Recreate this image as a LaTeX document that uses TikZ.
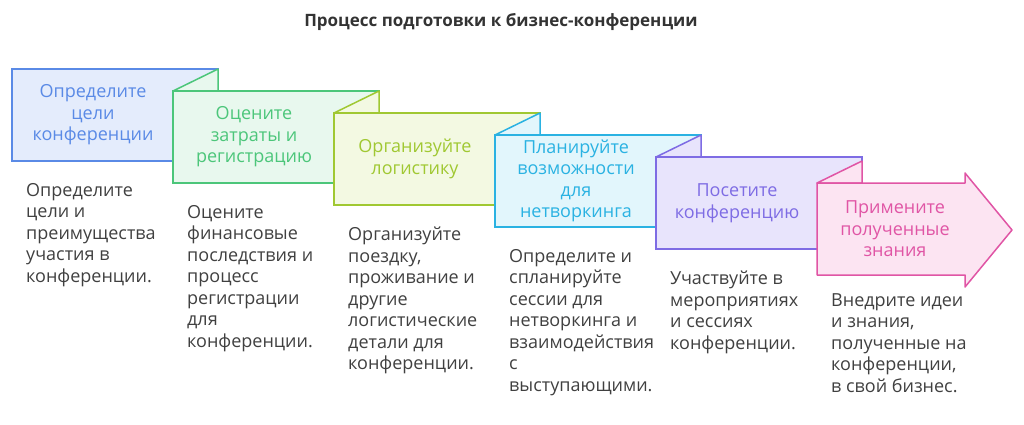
\documentclass[tikz,border=0pt]{standalone}
\usepackage{fontspec}
\setmainfont{Open Sans}
\begin{document}
\begin{tikzpicture}[x=1pt,y=-1pt,
 lbl/.style={align=center,font=\fontsize{18}{21.5}\selectfont},
 dsc/.style={anchor=north west,align=left,inner sep=0pt,text=black!75,font=\fontsize{18}{21.5}\selectfont}]
\useasboundingbox (0,0) rectangle (1024,425);
\definecolor{s1}{HTML}{5A8AE6}\definecolor{f1}{HTML}{E4ECFC}
\definecolor{s2}{HTML}{4CC67A}\definecolor{f2}{HTML}{E8F8EE}
\definecolor{s3}{HTML}{A0C832}\definecolor{f3}{HTML}{F3F9E2}
\definecolor{s4}{HTML}{2AB2E2}\definecolor{f4}{HTML}{E2F6FC}
\definecolor{s5}{HTML}{7E6CE4}\definecolor{f5}{HTML}{E8E4FC}
\definecolor{s6}{HTML}{E055A5}\definecolor{f6}{HTML}{FCE4F2}
\node[font=\bfseries\fontsize{17}{19}\selectfont,text=black!80] (title) at (501,22) {Процесс подготовки к бизнес-конференции};
\foreach \i/\t in {1/{Определите\\цели\\конференции},2/{Оцените\\затраты и\\регистрацию},3/{Организуйте\\логистику},4/{Планируйте\\возможности\\для\\нетворкинга},5/{Посетите\\конференцию}}{
  \pgfmathsetmacro\L{12+161*(\i-1)}
  \pgfmathsetmacro\T{69+22*(\i-1)}
  \ifnum\i>1
   \fill[f\i,draw=s\i,line width=1.5pt,line join=round] (\L,\T) -- (\L+45,\T-22) -- (\L+45,\T) -- cycle;
  \fi
  \filldraw[fill=f\i,draw=s\i,line width=1.5pt] (\L,\T) rectangle (\L+206,\T+92);
  \node[lbl,text=s\i] (b\i) at (\L+81,\T+46) {\t};
}
\fill[f6,draw=s6,line width=1.5pt,line join=round] (817,183) -- (862,161) -- (862,183) -- cycle;
\filldraw[fill=f6,draw=s6,line width=1.5pt,line join=round] (817,183) -- (965,183) -- (965,173) -- (1012,230) -- (965,287) -- (965,275) -- (817,275) -- cycle;
\node[lbl,text=s6] (b6) at (895,229) {Примените\\полученные\\знания};
\node[dsc] (d1) at (26,183) {Определите\\цели и\\преимущества\\участия в\\конференции.};
\node[dsc] (d2) at (187,205) {Оцените\\финансовые\\последствия и\\процесс\\регистрации\\для\\конференции.};
\node[dsc] (d3) at (348,227) {Организуйте\\поездку,\\проживание и\\другие\\логистические\\детали для\\конференции.};
\node[dsc] (d4) at (509,249) {Определите и\\спланируйте\\сессии для\\нетворкинга и\\взаимодействия\\с\\выступающими.};
\node[dsc] (d5) at (670,271) {Участвуйте в\\мероприятиях\\и сессиях\\конференции.};
\node[dsc] (d6) at (831,293) {Внедрите идеи\\и знания,\\полученные на\\конференции,\\в свой бизнес.};
\end{tikzpicture}
\end{document}
